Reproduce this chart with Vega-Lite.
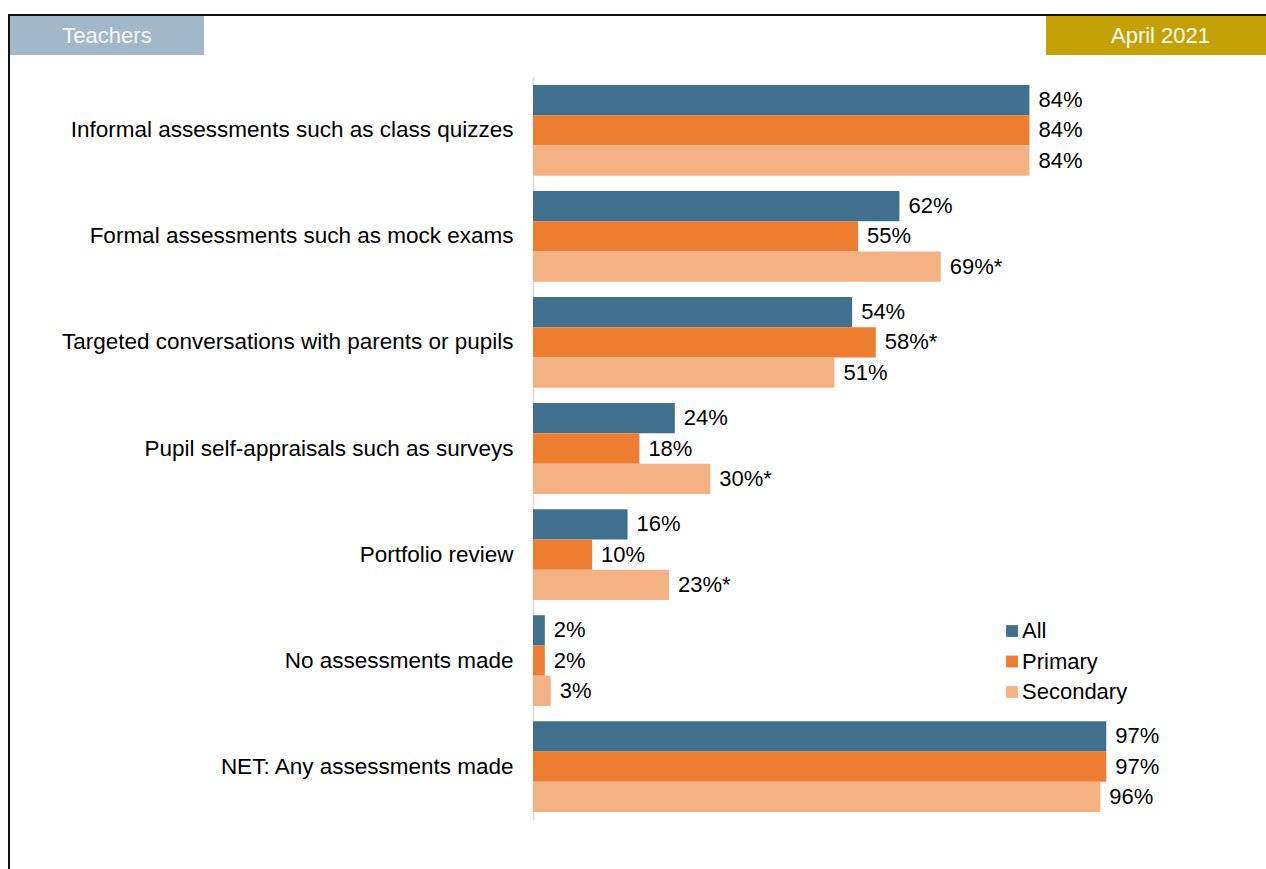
{
  "$schema": "https://vega.github.io/schema/vega-lite/v6.json",
  "padding": {"left": 8, "top": 14, "right": 0, "bottom": 0},
  "background": "white",
  "config": {"font": "Liberation Sans", "view": {"stroke": null}},
  "datasets": {
    "bars": [
      {"item": "Informal assessments such as class quizzes", "group": "All", "value": 84, "label": "84%"},
      {"item": "Informal assessments such as class quizzes", "group": "Primary", "value": 84, "label": "84%"},
      {"item": "Informal assessments such as class quizzes", "group": "Secondary", "value": 84, "label": "84%"},
      {"item": "Formal assessments such as mock exams", "group": "All", "value": 62, "label": "62%"},
      {"item": "Formal assessments such as mock exams", "group": "Primary", "value": 55, "label": "55%"},
      {"item": "Formal assessments such as mock exams", "group": "Secondary", "value": 69, "label": "69%*"},
      {"item": "Targeted conversations with parents or pupils", "group": "All", "value": 54, "label": "54%"},
      {"item": "Targeted conversations with parents or pupils", "group": "Primary", "value": 58, "label": "58%*"},
      {"item": "Targeted conversations with parents or pupils", "group": "Secondary", "value": 51, "label": "51%"},
      {"item": "Pupil self-appraisals such as surveys", "group": "All", "value": 24, "label": "24%"},
      {"item": "Pupil self-appraisals such as surveys", "group": "Primary", "value": 18, "label": "18%"},
      {"item": "Pupil self-appraisals such as surveys", "group": "Secondary", "value": 30, "label": "30%*"},
      {"item": "Portfolio review", "group": "All", "value": 16, "label": "16%"},
      {"item": "Portfolio review", "group": "Primary", "value": 10, "label": "10%"},
      {"item": "Portfolio review", "group": "Secondary", "value": 23, "label": "23%*"},
      {"item": "No assessments made", "group": "All", "value": 2, "label": "2%"},
      {"item": "No assessments made", "group": "Primary", "value": 2, "label": "2%"},
      {"item": "No assessments made", "group": "Secondary", "value": 3, "label": "3%"},
      {"item": "NET: Any assessments made", "group": "All", "value": 97, "label": "97%"},
      {"item": "NET: Any assessments made", "group": "Primary", "value": 97, "label": "97%"},
      {"item": "NET: Any assessments made", "group": "Secondary", "value": 96, "label": "96%"}
    ]
  },
  "spacing": 0,
  "bounds": "full",
  "hconcat": [
    {
      "width": 2, "height": 870,
      "view": {"fill": "#111111", "stroke": null},
      "data": {"values": [{}]},
      "mark": {"type": "text", "fontSize": 0},
      "encoding": {"text": {"value": ""}}
    },
    {
      "spacing": 0,
      "bounds": "full",
      "vconcat": [
        {
          "width": 1260, "height": 2,
          "view": {"fill": "#111111", "stroke": null},
          "data": {"values": [{}]},
          "mark": {"type": "text", "fontSize": 0},
          "encoding": {"text": {"value": ""}}
        },
        {
          "spacing": 0,
          "bounds": "flush",
          "hconcat": [
            {
              "width": 194, "height": 39,
              "view": {"fill": "#A2B8C8", "stroke": null},
              "data": {"values": [{"label": "Teachers"}]},
              "mark": {"type": "text", "fontSize": 22, "color": "#F7F7F7"},
              "encoding": {"text": {"field": "label"}}
            },
            {
              "width": 842, "height": 39,
              "data": {"values": [{}]},
              "mark": {"type": "text", "fontSize": 0},
              "encoding": {"text": {"value": ""}}
            },
            {
              "width": 229, "height": 39,
              "view": {"fill": "#C4A206", "stroke": null},
              "data": {"values": [{"label": "April 2021"}]},
              "mark": {"type": "text", "fontSize": 22, "color": "#F7F7F7"},
              "encoding": {"text": {"field": "label"}}
            }
          ]
        },
        {
          "width": 10, "height": 22,
          "data": {"values": [{}]},
          "mark": {"type": "text", "fontSize": 0},
          "encoding": {"text": {"value": ""}}
        },
        {
          "spacing": 0,
          "bounds": "flush",
          "hconcat": [
            {
              "width": 523, "height": 743,
              "data": {"values": [{}]},
              "mark": {"type": "text", "fontSize": 0},
              "encoding": {"text": {"value": ""}}
            },
            {
              "width": 591, "height": 743,
              "data": {"name": "bars"},
              "encoding": {
                "y": {
                  "field": "item", "type": "nominal",
                  "sort": ["Informal assessments such as class quizzes", "Formal assessments such as mock exams", "Targeted conversations with parents or pupils", "Pupil self-appraisals such as surveys", "Portfolio review", "No assessments made", "NET: Any assessments made"],
                  "scale": {"paddingInner": 0.144, "paddingOuter": 0.075},
                  "axis": {"title": null, "ticks": false, "tickSize": 0, "grid": false, "domainColor": "#D9D9D9", "domainWidth": 1.5, "labelFontSize": 22.5, "labelColor": "#000000", "labelPadding": 20, "labelLimit": 700}
                },
                "yOffset": {
                  "field": "group", "type": "nominal",
                  "sort": ["All", "Primary", "Secondary"],
                  "scale": {"paddingInner": 0, "paddingOuter": 0}
                },
                "x": {"field": "value", "type": "quantitative", "scale": {"domain": [0, 100], "nice": false}, "axis": null}
              },
              "layer": [
                {
                  "mark": {"type": "bar"},
                  "encoding": {
                    "color": {
                      "field": "group", "type": "nominal",
                      "scale": {"domain": ["All", "Primary", "Secondary"], "range": ["#41708F", "#ED7D31", "#F4B183"]},
                      "legend": {"title": null, "orient": "none", "legendX": 993, "legendY": 606, "padding": 0, "symbolType": "square", "symbolSize": 140, "symbolStrokeWidth": 0, "labelFontSize": 22, "labelColor": "#000000", "rowPadding": 8.5, "labelOffset": -1}
                    }
                  }
                },
                {
                  "mark": {"type": "text", "align": "left", "baseline": "middle", "dx": 9, "fontSize": 22, "color": "#000000"},
                  "encoding": {"text": {"field": "label"}}
                }
              ]
            }
          ]
        }
      ]
    }
  ]
}
